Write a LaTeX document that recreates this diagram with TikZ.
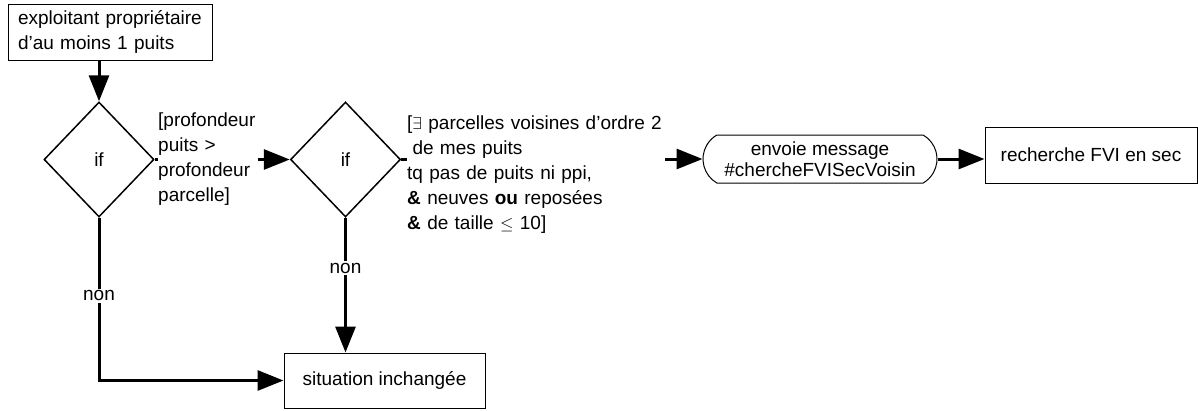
\documentclass[tikz,border=0pt]{standalone}
\usepackage{fontspec}
\setmainfont{Liberation Sans}
\usetikzlibrary{shapes.geometric,shapes.misc,arrows.meta,calc}
\begin{document}
\begin{tikzpicture}[x=1pt,y=-1pt,
  every node/.style={font=\fontsize{19}{25}\selectfont},
  boxnode/.style={draw,line width=1pt,inner sep=0pt},
  decision/.style={diamond,draw,line width=1.5pt,inner sep=0pt,minimum width=110pt,minimum height=115pt},
  guard/.style={inner sep=0pt,align=left,anchor=west},
  conn/.style={line width=3pt},
  arr/.style={line width=3pt,-{Triangle[length=26pt,width=20pt]}},
  lbl/.style={fill=white,inner sep=2pt}]
\useasboundingbox (0,0) rectangle (1198,410);

\node[boxnode,minimum width=204pt,minimum height=56pt,text width=184pt,align=left] (top) at (110,32)
  {exploitant propriétaire\\d'au moins 1 puits};
\node[decision] (d1) at (99,159.5) {if};
\node[decision] (d2) at (345.5,159.5) {if};
\node[guard,text width=100pt] (g1) at (158,159.5)
  {[profondeur\\puits >\\profondeur\\parcelle]};
\node[guard,text width=258pt] (g2) at (407,174.5)
  {[$\exists$ parcelles voisines d'ordre 2\\\hspace*{0.28em}de mes puits\\tq pas de puits ni ppi,\\\textbf{\&} neuves \textbf{ou} reposées\\\textbf{\&} de taille $\leq$ 10]};
\node[draw,line width=1pt,rounded rectangle,rounded rectangle arc length=120,minimum width=234pt,minimum height=48pt,inner sep=0pt,align=center,
  font=\fontsize{19}{21}\selectfont] (env) at (820,159)
  {envoie message\\\#chercheFVISecVoisin};
\node[boxnode,minimum width=212pt,minimum height=56pt] (rech) at (1091,155) {recherche FVI en sec};
\node[boxnode,minimum width=201pt,minimum height=55pt] (sit) at (384.5,380.5) {situation inchangée};

\draw[arr] (d1.north |- top.south) -- (d1.north);
\draw[conn] (d1.east) -- (g1.west |- d1.east);
\draw[arr] (g1.east |- d2.west) -- (d2.west);
\draw[conn] (d2.east) -- (g2.west |- d2.east);
\draw[arr] (g2.east |- env.west) -- (env.west);
\draw[arr] (env.east) -- (rech.west |- env.east);
\draw[arr] (d1.south) |- (sit.west) node[lbl,pos=0.24] {non};
\draw[arr] (d2.south) -- (d2.south |- sit.north) node[lbl,pos=0.375] {non};
\end{tikzpicture}
\end{document}
